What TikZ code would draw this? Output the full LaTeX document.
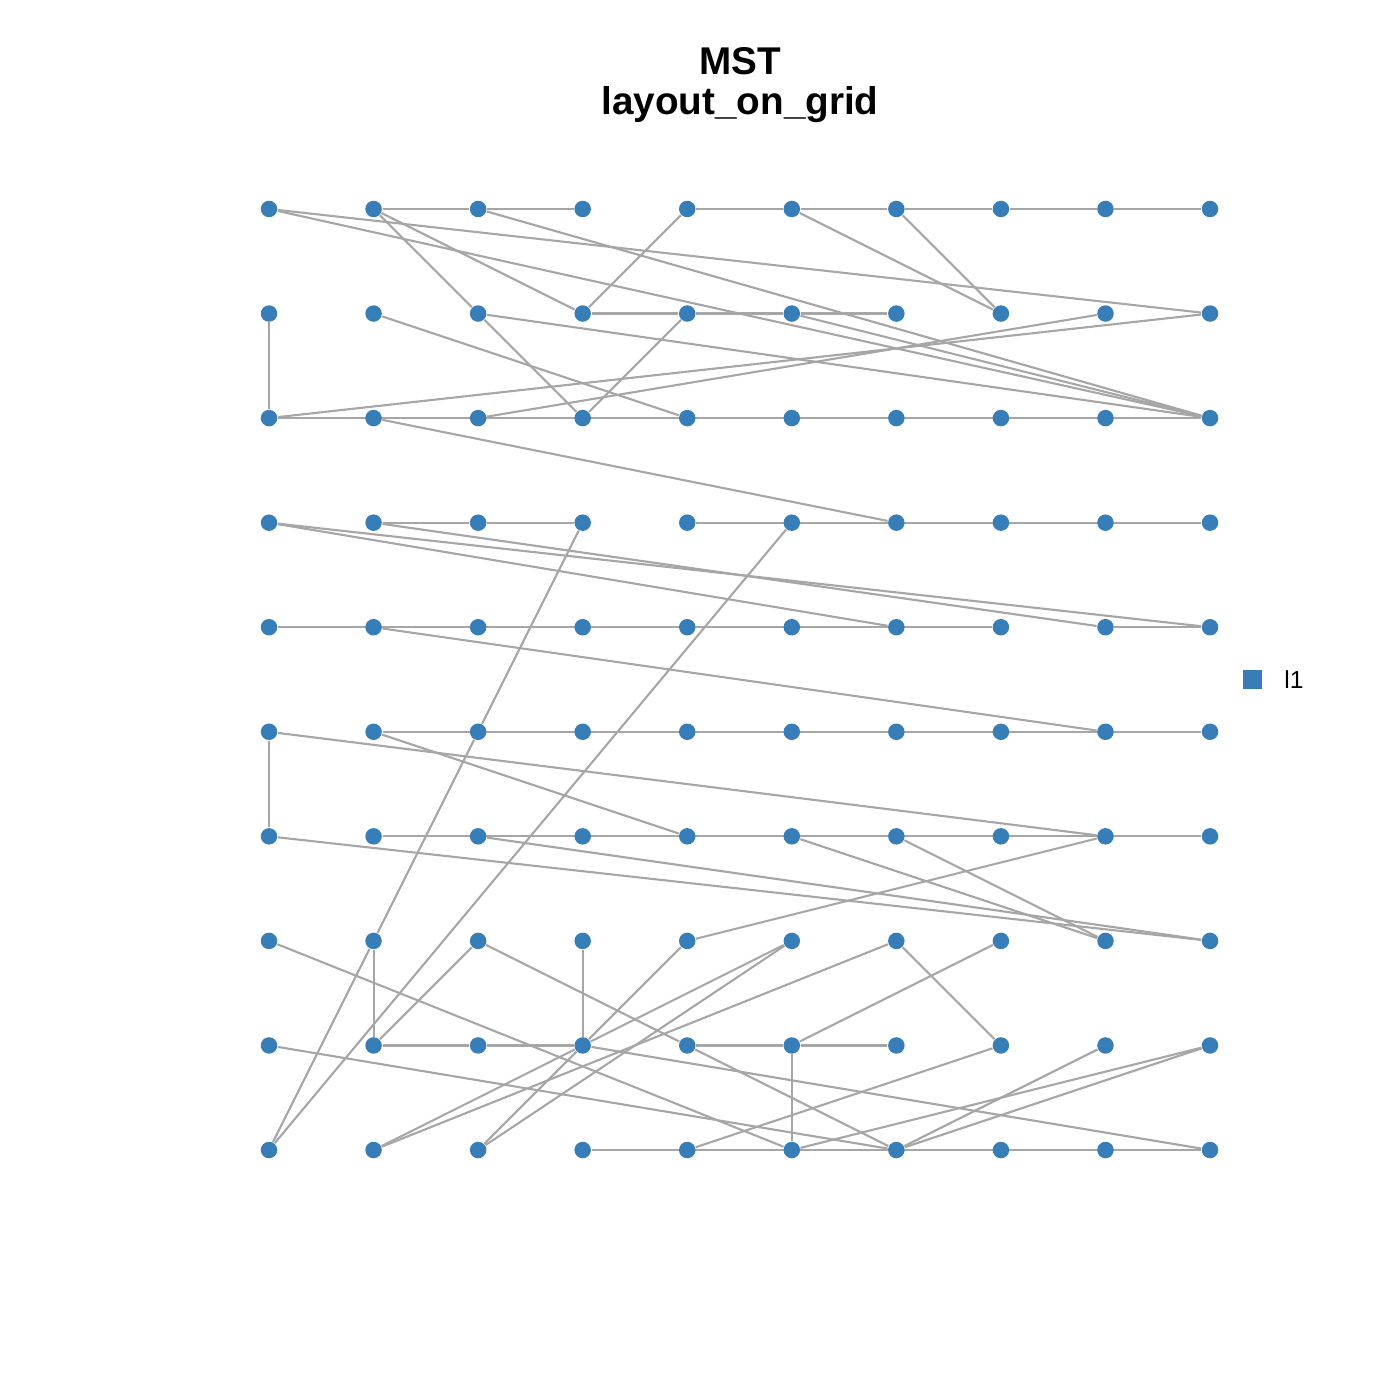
\documentclass[tikz,border=0pt]{standalone}
\usepackage{fontspec}
\setmainfont{Liberation Sans}
\usetikzlibrary{backgrounds}

\definecolor{dotblue}{RGB}{55,126,184}
\definecolor{edgegray}{RGB}{166,166,166}

\tikzset{
  dot/.style={circle, fill=dotblue, inner sep=0pt, minimum size=0.165cm},
  edge/.style={draw=edgegray, line width=0.6pt},
  keybox/.style={rectangle, fill=dotblue, inner sep=0pt, minimum size=0.19cm}
}

\begin{document}
\begin{tikzpicture}

	\useasboundingbox (0,0) rectangle (14,14);

	% Grid dimensions
	\def\xofs{2.69}
	\def\yofs{11.91}
	\def\gap{1.0456}

	% Title
	\node[anchor=base, font=\bfseries\fontsize{11}{13}\selectfont] (title) at (7.40, 13.25) {MST};
	\node[anchor=base, font=\bfseries\fontsize{11}{13}\selectfont] (subtitle) at (7.40, 12.85) {layout\_on\_grid};

	% Nodes (column, row)
	\foreach \c in {1,...,10}
		\foreach \r in {1,...,10}
			\node[dot] (v-\c-\r) at ({\xofs + (\c - 1) * \gap}, {\yofs - (\r - 1) * \gap}) {};

	\begin{pgfonlayer}{background}

	% Row 1
	\draw[edge] (v-2-1) -- (v-3-1) -- (v-4-1);
	\draw[edge] (v-5-1) -- (v-6-1) -- (v-7-1) -- (v-8-1) -- (v-9-1) -- (v-10-1);
	\foreach \a/\b in {1-1/10-2, 1-1/10-3, 2-1/3-2, 3-2/4-3, 2-1/4-2, 3-1/10-3,
	                   5-1/4-2, 6-1/8-2, 7-1/8-2}
		\draw[edge] (v-\a) -- (v-\b);

	% Row 2
	\draw[edge] (v-4-2) -- (v-5-2) -- (v-6-2) -- (v-7-2);
	\foreach \a/\b in {1-2/1-3, 2-2/5-3, 3-2/10-3, 5-2/4-3, 6-2/10-3, 9-2/3-3, 10-2/1-3}
		\draw[edge] (v-\a) -- (v-\b);

	% Row 3
	\draw[edge] (v-1-3) -- (v-10-3);
	\draw[edge] (v-2-3) -- (v-7-4);

	% Row 4
	\draw[edge] (v-2-4) -- (v-3-4) -- (v-4-4);
	\draw[edge] (v-5-4) -- (v-10-4);
	\foreach \a/\b in {1-4/10-5, 1-4/7-5, 2-4/9-5, 4-4/3-6, 3-6/2-8, 2-8/1-10, 6-4/1-10}
		\draw[edge] (v-\a) -- (v-\b);

	% Row 5
	\draw[edge] (v-1-5) -- (v-8-5);
	\draw[edge] (v-9-5) -- (v-10-5);
	\draw[edge] (v-2-5) -- (v-9-6);

	% Row 6
	\draw[edge] (v-2-6) -- (v-10-6);
	\foreach \a/\b in {1-6/1-7, 1-6/9-7, 2-6/5-7}
		\draw[edge] (v-\a) -- (v-\b);

	% Row 7
	\draw[edge] (v-2-7) -- (v-10-7);
	\foreach \a/\b in {1-7/10-8, 3-7/10-8, 6-7/9-8, 7-7/9-8, 9-7/5-8}
		\draw[edge] (v-\a) -- (v-\b);

	% Row 8
	\foreach \a/\b in {1-8/6-10, 2-8/2-9, 3-8/2-9, 3-8/5-9, 5-9/7-10, 4-8/4-9,
	                   5-8/4-9, 4-9/3-10, 6-8/4-9, 4-9/2-10, 6-8/3-10,
	                   7-8/2-10, 7-8/8-9, 8-8/6-9}
		\draw[edge] (v-\a) -- (v-\b);

	% Row 9
	\draw[edge] (v-2-9) -- (v-3-9) -- (v-4-9);
	\draw[edge] (v-5-9) -- (v-6-9) -- (v-7-9);
	\foreach \a/\b in {1-9/7-10, 4-9/10-10, 6-9/6-10, 8-9/5-10, 9-9/7-10,
	                   10-9/7-10, 10-9/6-10}
		\draw[edge] (v-\a) -- (v-\b);

	% Row 10
	\draw[edge] (v-4-10) -- (v-10-10);

	\end{pgfonlayer}

	% Legend
	\node[keybox] (key) at (12.52, 7.20) {};
	\node[anchor=west, font=\fontsize{7}{8}\selectfont] (keylabel) at (12.72, 7.20) {l1};

\end{tikzpicture}
\end{document}
